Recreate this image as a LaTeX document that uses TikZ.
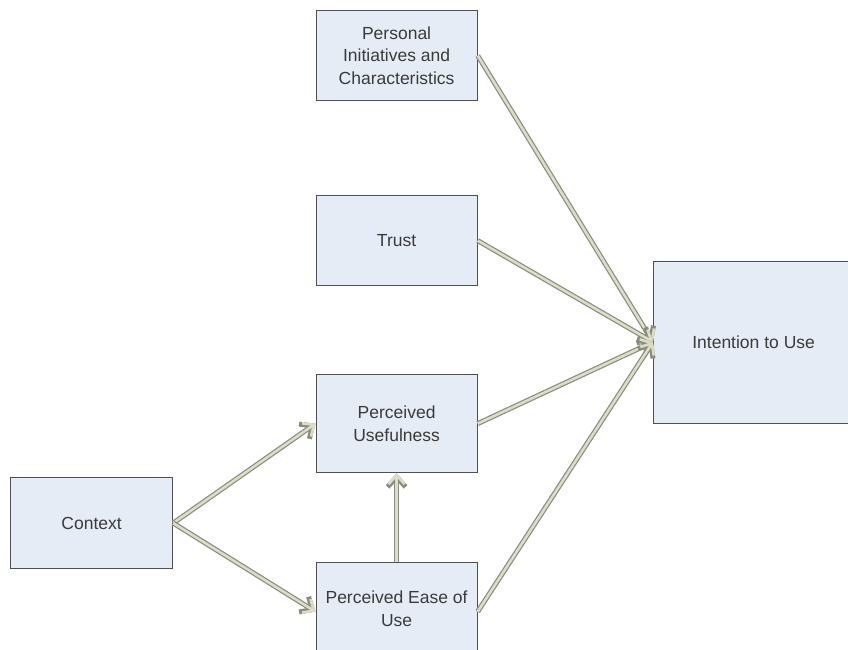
\documentclass[tikz,border=0pt]{standalone}
\usepackage{fontspec}
\setmainfont{Liberation Sans}
\usetikzlibrary{arrows.meta}
\definecolor{boxfill}{HTML}{E6ECF6}
\definecolor{boxedge}{HTML}{505050}
\definecolor{txt}{HTML}{3A3A3A}
\definecolor{arrfill}{HTML}{DCDDC6}
\definecolor{arredge}{HTML}{8A8C80}
\tikzset{
  box/.style={draw=boxedge, line width=1.2pt, fill=boxfill, text=txt, align=center,
    font=\fontsize{17.5}{22.5}\selectfont, inner sep=0pt, anchor=north west},
  conn/.style={
    preaction={draw=arredge, line width=5pt, -{Straight Barb[length=10pt,width=18pt]}},
    draw=arrfill, line width=2.6pt, -{Straight Barb[length=9pt,width=16pt]}}
}
\begin{document}
\begin{tikzpicture}[x=1pt,y=-1pt]
\useasboundingbox (0,0) rectangle (848,650);
\node[box, minimum width=161pt, minimum height=90pt] (pic) at (315.5,10) {Personal\\Initiatives and\\Characteristics};
\node[box, minimum width=161pt, minimum height=90pt] (trust) at (315.5,195) {Trust};
\node[box, minimum width=161pt, minimum height=98pt] (pu) at (315.5,374) {Perceived\\Usefulness};
\node[box, minimum width=161pt, minimum height=92pt] (peou) at (315.5,562) {Perceived Ease of\\Use};
\node[box, minimum width=162pt, minimum height=91pt] (ctx) at (10,477) {Context};
\node[box, minimum width=200pt, minimum height=162pt] (itu) at (653,261) {Intention to Use};
\coordinate (tgt) at (653,342);
\draw[conn] (pic.east) -- (tgt);
\draw[conn] (trust.east) -- (tgt);
\draw[conn] (pu.east) -- (tgt);
\draw[conn] ([yshift=-3pt]peou.east) -- (tgt);
\draw[conn] (ctx.east) -- (pu.west);
\draw[conn] (ctx.east) -- ([yshift=-3pt]peou.west);
\draw[conn] (peou.north) -- (pu.south);
\end{tikzpicture}
\end{document}
